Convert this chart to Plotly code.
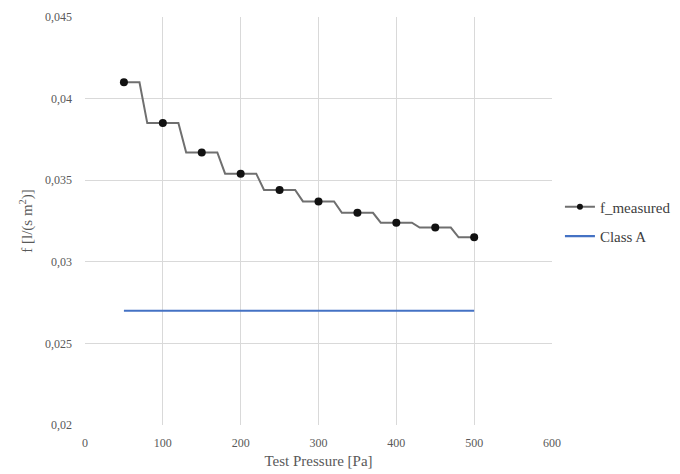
import plotly.graph_objects as go

# Data
pressure = [50, 100, 150, 200, 250, 300, 350, 400, 450, 500]
f_measured = [0.0410, 0.0385, 0.0367, 0.0354, 0.0344, 0.0337, 0.0330, 0.0324, 0.0321, 0.0315]
class_a_x = [50, 500]
class_a_y = [0.027, 0.027]
x_ticks = [0, 100, 200, 300, 400, 500, 600]
y_ticks = [0.02, 0.025, 0.03, 0.035, 0.04, 0.045]

# plateau half width (Pa) of the stepped measured line
half = 20
step_x, step_y = [], []
n = len(pressure)
for i, (p, f) in enumerate(zip(pressure, f_measured)):
    if i > 0:
        step_x.append(p - half); step_y.append(f)
    step_x.append(p); step_y.append(f)
    if i < n - 1:
        step_x.append(p + half); step_y.append(f)

font_family = "Liberation Serif"
grey = "#595959"

fig = go.Figure()
fig.add_trace(go.Scatter(
    x=step_x, y=step_y, mode="lines", line=dict(color="#6f6f6f", width=2),
    showlegend=False, hoverinfo="skip"))
fig.add_trace(go.Scatter(
    x=pressure, y=f_measured, mode="markers", name="f_measured",
    marker=dict(color="#111111", size=8),
    legendgroup="a", showlegend=False))
# legend entry for f_measured
fig.add_trace(go.Scatter(
    x=[None], y=[None], mode="lines+markers", name="f_measured",
    line=dict(color="#6f6f6f", width=2), marker=dict(color="#111111", size=6),
    legendgroup="a"))
fig.add_trace(go.Scatter(
    x=class_a_x, y=class_a_y, mode="lines", name="Class A",
    line=dict(color="#4472C4", width=2.2), legendgroup="b"))

# the page body adds an 8px offset, so the figure is 8px smaller each way
fig.update_layout(
    width=672, height=466,
    margin=dict(l=77, r=128, t=9, b=49, autoexpand=False),
    paper_bgcolor="white", plot_bgcolor="white",
    separators=", ",
    font=dict(family=font_family, color=grey, size=12),
    legend=dict(x=1.017, y=0.499, xanchor="left", yanchor="middle",
                font=dict(size=15, color="#404040"), traceorder="grouped",
                tracegroupgap=7, itemwidth=30),
    showlegend=True,
)
fig.update_xaxes(range=[0, 600], tickvals=x_ticks, showgrid=True,
                 gridcolor="#d9d9d9", gridwidth=1, zeroline=False,
                 showline=False, ticks="", automargin=False,
                 ticklabelstandoff=9,
                 title=dict(text="Test Pressure [Pa]", font=dict(size=15, color=grey), standoff=6),
                 tickfont=dict(size=12, color=grey))
fig.update_yaxes(range=[0.02, 0.045], tickvals=y_ticks, showgrid=True,
                 gridcolor="#d9d9d9", gridwidth=1, zeroline=False,
                 showline=False, ticks="", automargin=False,
                 ticklabelstandoff=12,
                 title=dict(text="f [l/(s m<sup>2</sup>)]", font=dict(size=15, color=grey), standoff=8),
                 tickfont=dict(size=12, color=grey))

fig.write_html("out.html")
